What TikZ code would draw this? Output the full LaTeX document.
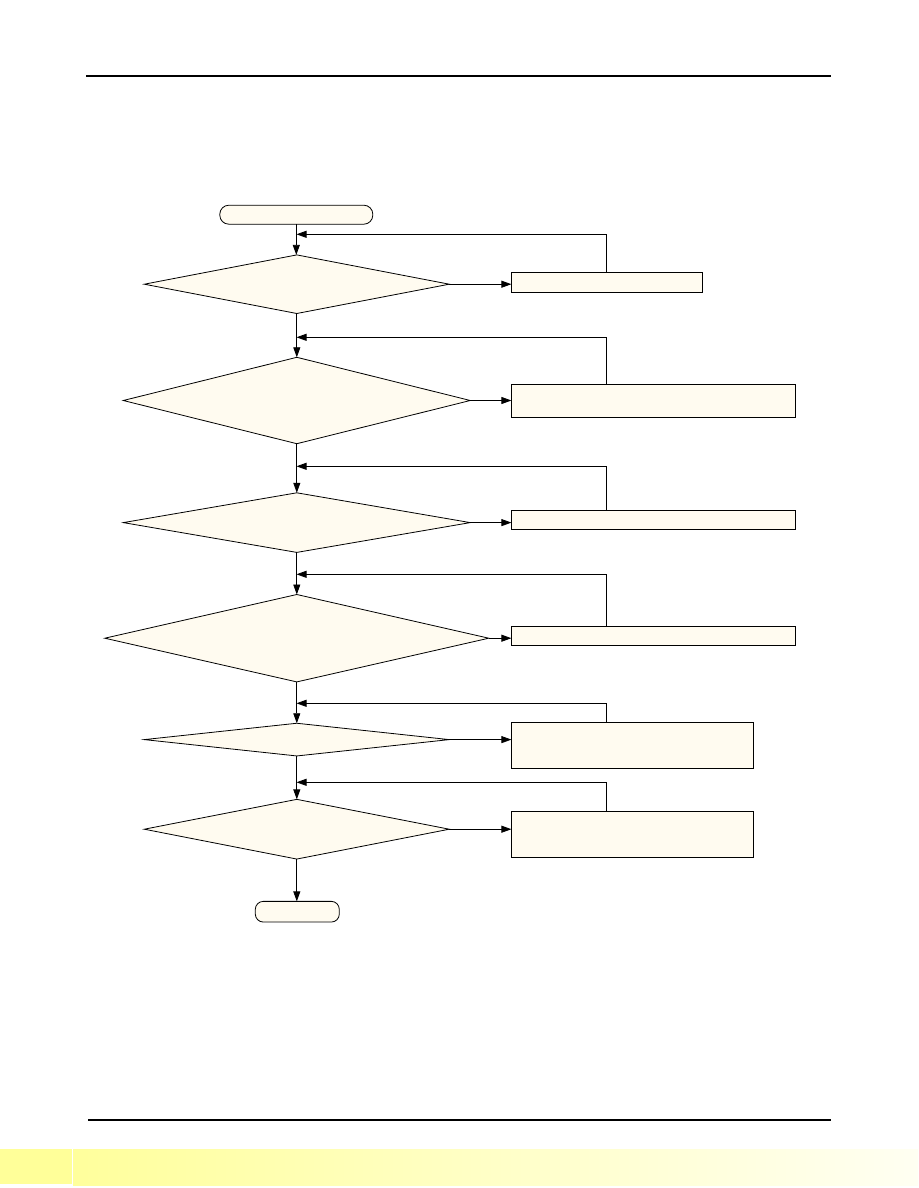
\documentclass[tikz,border=0pt]{standalone}
\usetikzlibrary{shapes.geometric,arrows.meta,positioning}
\definecolor{cream}{RGB}{255,251,240}
\definecolor{bandL}{RGB}{255,255,153}
\definecolor{bandA}{RGB}{255,255,156}
\definecolor{bandB}{RGB}{255,255,242}
\begin{document}
\begin{tikzpicture}[x=1pt,y=-1pt,
  arr/.style={line width=0.8pt,-{Triangle[length=10pt,width=7pt]}},
  ln/.style={line width=0.8pt},
  term/.style={draw,line width=0.8pt,fill=cream,rounded corners=9pt,inner sep=0pt,outer sep=0pt},
  dec/.style={draw,line width=0.8pt,fill=cream,shape=diamond,inner sep=0pt,outer sep=0pt,aspect=5},
  proc/.style={draw,line width=1pt,fill=cream,inner sep=0pt,outer sep=0pt,anchor=west}]
\useasboundingbox (0,0) rectangle (918,1188);
% header / footer
\draw[line width=1.3pt] (86,76) -- (831,76);
\draw[line width=1.3pt] (88,1120) -- (831,1120);
\fill[bandL] (0,1149.3) rectangle (72,1183.7);
\shade[left color=bandA,right color=bandB] (73,1149.3) rectangle (918,1185);
% nodes
\node[term,minimum width=153pt,minimum height=19pt] (start) at (296.3,214.7) {};
\node[dec,minimum width=305pt,minimum height=58.6pt] (d1) at (296.8,284.2) {};
\node[dec,minimum width=347pt,minimum height=86.4pt] (d2) at (296.8,400.5) {};
\node[dec,minimum width=347pt,minimum height=59.6pt] (d3) at (296.8,522.6) {};
\node[dec,minimum width=384pt,minimum height=87.4pt] (d4) at (296.8,638.2) {};
\node[dec,minimum width=305pt,minimum height=32.7pt] (d5) at (296.8,739.6) {};
\node[dec,minimum width=305pt,minimum height=59.7pt] (d6) at (296.8,829.2) {};
\node[term,minimum width=84pt,minimum height=20.7pt,rounded corners=8pt] (end) at (297.3,911.7) {};
\node[proc,minimum width=191pt,minimum height=20pt] (b1) at (511.4,282.3) {};
\node[proc,minimum width=284.2pt,minimum height=33pt] (b2) at (511.4,400.8) {};
\node[proc,minimum width=284.2pt,minimum height=19pt] (b3) at (511.4,519.8) {};
\node[proc,minimum width=284.2pt,minimum height=19pt] (b4) at (511.4,635.8) {};
\node[proc,minimum width=242pt,minimum height=46pt] (b5) at (511.4,745.3) {};
\node[proc,minimum width=242pt,minimum height=45.7pt] (b6) at (511.4,834.2) {};
% junctions on the main line
\coordinate (j1) at (296.5,234.3);
\coordinate (j2) at (296.5,337.3);
\coordinate (j3) at (296.5,466.3);
\coordinate (j4) at (296.5,574.3);
\coordinate (j5) at (296.5,703.3);
\coordinate (j6) at (296.5,782.3);
% main flow
\draw[arr] (start.south) -- (start.south |- d1.north);
\draw[arr] (d1.south) -- (d2.north);
\draw[arr] (d2.south) -- (d3.north);
\draw[arr] (d3.south) -- (d4.north);
\draw[arr] (d4.south) -- (d5.north);
\draw[arr] (d5.south) -- (d6.north);
\draw[arr] (d6.south) -- (d6.south |- end.north);
% yes branches
\foreach \i in {1,...,6}{
  \draw[arr] (d\i.east) -- (d\i.east -| b\i.west);
  \draw[arr] ([xshift=95pt]b\i.north west) |- (j\i);
}
\end{tikzpicture}
\end{document}
